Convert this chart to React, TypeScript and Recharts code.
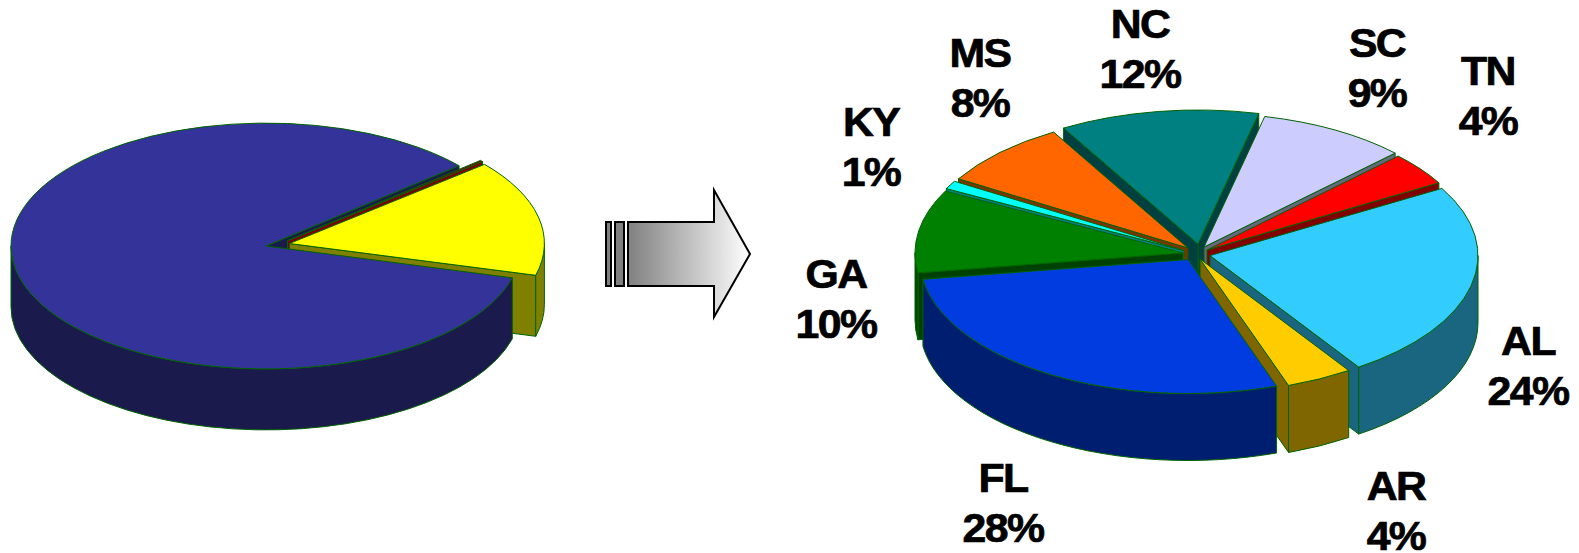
import { PieChart, Pie } from 'recharts'

// Left pie: the single yellow share pulled out of the total
const leftNames = ['Share', 'Sliver', 'Rest']
const leftValues = [15.3, 0.2, 84.5]
const leftColors = ['#ffff00', '#800000', '#333399']
const leftWalls = ['#808000', '#800000', '#1a1a4d']
const leftPullX = [23.4, 21.5, 0]
const leftPullY = [-2.5, -5.3, 0]
const leftCutOrder = ['Rest', 'Sliver', 'Share']

// Right pie: breakdown by state
const rightNames = ['AL', 'TN', 'SC', 'NC', 'MS', 'KY', 'GA', 'FL', 'AR']
const rightValues = [24, 4, 9, 12, 8, 1, 10, 28, 4]
const rightColors = ['#33ccff', '#ff0000', '#ccccff', '#008080', '#ff6600', '#00ffff', '#008000', '#003ce0', '#ffcc00']
const rightWalls = ['#1a6680', '#800000', '#666680', '#004040', '#803300', '#008080', '#004000', '#001e70', '#806600']
const rightPullX = [14, 11, 8, 2, -8, -12, -13, -8, 4]
const rightPullY = [1.6, -4, -7, -10, -6, -3.5, -1, 5.5, 5]
const rightCutOrder = ['NC', 'SC', 'MS', 'TN', 'KY', 'GA', 'AL', 'AR']

// Centre x and first baseline of each two-line state label
const labelAnchors = [
  [1528, 355],
  [1488, 85],
  [1377, 57],
  [1140, 38],
  [980, 67],
  [871, 136],
  [836, 288],
  [1003, 492],
  [1396, 500],
]

const EDGE = '#006400'
const RAD = Math.PI / 180

const buildRows = (names: string[], values: number[], colors: string[], walls: string[], pullX: number[], pullY: number[]) =>
  names.map((name, i) => ({ name, value: values[i], top: colors[i], wall: walls[i], dx: pullX[i], dy: pullY[i] }))

const leftRows = buildRows(leftNames, leftValues, leftColors, leftWalls, leftPullX, leftPullY)
const rightRows = buildRows(rightNames, rightValues, rightColors, rightWalls, rightPullX, rightPullY)

type Face = 'cut' | 'wall' | 'top'

// Pie sectors are flat circles, so each one is re-projected onto a tilted ellipse with a height
const slice3d = (face: Face, tilt: number, depth: number, only?: string) => (props: any) => {
  const { cx, cy, outerRadius: r, startAngle, endAngle, payload } = props
  if (only && payload.name !== only) return null

  const s = Math.min(startAngle, endAngle)
  const e = Math.max(startAngle, endAngle)
  const ox = cx + payload.dx
  const oy = cy + payload.dy
  const px = (a: number) => ox + r * Math.cos(a * RAD)
  const py = (a: number) => oy - tilt * r * Math.sin(a * RAD)
  const style = { stroke: EDGE, strokeWidth: 1, strokeLinejoin: 'round' as const }

  if (face === 'top') {
    const large = e - s > 180 ? 1 : 0
    const d = `M${ox},${oy} L${px(s)},${py(s)} A${r},${tilt * r} 0 ${large} 0 ${px(e)},${py(e)} Z`
    return <path d={d} fill={payload.top} {...style} />
  }

  if (face === 'cut') {
    const edges: number[] = []
    if (Math.cos(s * RAD) > 0) edges.push(s)
    if (Math.cos(e * RAD) < 0) edges.push(e)
    return (
      <g>
        {edges.map(a => (
          <path
            key={a}
            d={`M${ox},${oy} L${px(a)},${py(a)} L${px(a)},${py(a) + depth} L${ox},${oy + depth} Z`}
            fill={payload.wall}
            {...style}
          />
        ))}
      </g>
    )
  }

  // outer wall: only the part of the rim on the near half of the ellipse
  const spans: number[][] = []
  for (const [lo, hi] of [[-180, 0], [180, 360], [540, 720]]) {
    const a = Math.max(s, lo)
    const b = Math.min(e, hi)
    if (b > a) spans.push([a, b])
  }
  return (
    <g>
      {spans.map(([a, b]) => (
        <path
          key={a}
          d={`M${px(a)},${py(a)} A${r},${tilt * r} 0 0 0 ${px(b)},${py(b)} L${px(b)},${py(b) + depth} A${r},${tilt * r} 0 0 1 ${px(a)},${py(a) + depth} Z`}
          fill={payload.wall}
          {...style}
        />
      ))}
    </g>
  )
}

// Wide, heavy, tightly set label text
const labelLine = (text: string, x: number, y: number) => (
  <text
    key={text}
    transform={`translate(${x},${y}) scale(1.07,1)`}
    textAnchor="middle"
    fontFamily="'Liberation Sans', Arial, sans-serif"
    fontWeight={700}
    fontSize={40}
    letterSpacing={-1.5}
    fill="#000"
    stroke="#000"
    strokeWidth={0.7}
  >
    {text}
  </text>
)

const stateLabel = (props: any) => {
  const i = rightNames.indexOf(props.name)
  const [x, y] = labelAnchors[i]
  return (
    <g key={props.name}>
      {labelLine(props.name, x, y)}
      {labelLine(`${rightValues[i]}%`, x, y + 50)}
    </g>
  )
}

const leftPie = { data: leftRows, dataKey: 'value', cx: 266, cy: 246, outerRadius: 255, startAngle: -15, endAngle: 345, stroke: 'none', isAnimationActive: false }
const rightPie = { data: rightRows, dataKey: 'value', cx: 1196, cy: 254, outerRadius: 268, startAngle: -56.3, endAngle: 303.7, stroke: 'none', isAnimationActive: false }

function Arrow() {
  return (
    <svg width={1579} height={553} style={{ position: 'absolute', left: 0, top: 0 }}>
      <defs>
        <linearGradient id="arrowFade" x1="0" y1="0" x2="1" y2="0">
          <stop offset="0%" stopColor="#808080" />
          <stop offset="100%" stopColor="#ffffff" />
        </linearGradient>
      </defs>
      <g stroke="#000" strokeWidth={2}>
        <rect x={606} y={222} width={5} height={64} fill="#808080" />
        <rect x={615} y={222} width={9} height={64} fill="#808080" />
        <path d="M628,222 L714,222 L714,190 L750,254 L714,317 L714,286 L628,286 Z" fill="url(#arrowFade)" />
      </g>
    </svg>
  )
}

export default function App() {
  return (
    <div style={{ position: 'absolute', left: 0, top: 0, width: 1579, height: 553, background: '#fff' }}>
      <Arrow />
      <div style={{ position: 'absolute', left: 0, top: 0 }}>
        <PieChart width={1579} height={553} margin={{ top: 0, right: 0, bottom: 0, left: 0 }}>
          {leftCutOrder.map(name => (
            <Pie key={`l-${name}`} {...leftPie} shape={slice3d('cut', 0.482, 61, name)} />
          ))}
          <Pie {...leftPie} shape={slice3d('wall', 0.482, 61)} />
          <Pie {...leftPie} shape={slice3d('top', 0.482, 61)} />

          {rightCutOrder.map(name => (
            <Pie key={`r-${name}`} {...rightPie} shape={slice3d('cut', 0.5, 67, name)} />
          ))}
          <Pie {...rightPie} shape={slice3d('wall', 0.5, 67)} />
          <Pie {...rightPie} shape={slice3d('top', 0.5, 67)} label={stateLabel} labelLine={false} />
        </PieChart>
      </div>
    </div>
  )
}
